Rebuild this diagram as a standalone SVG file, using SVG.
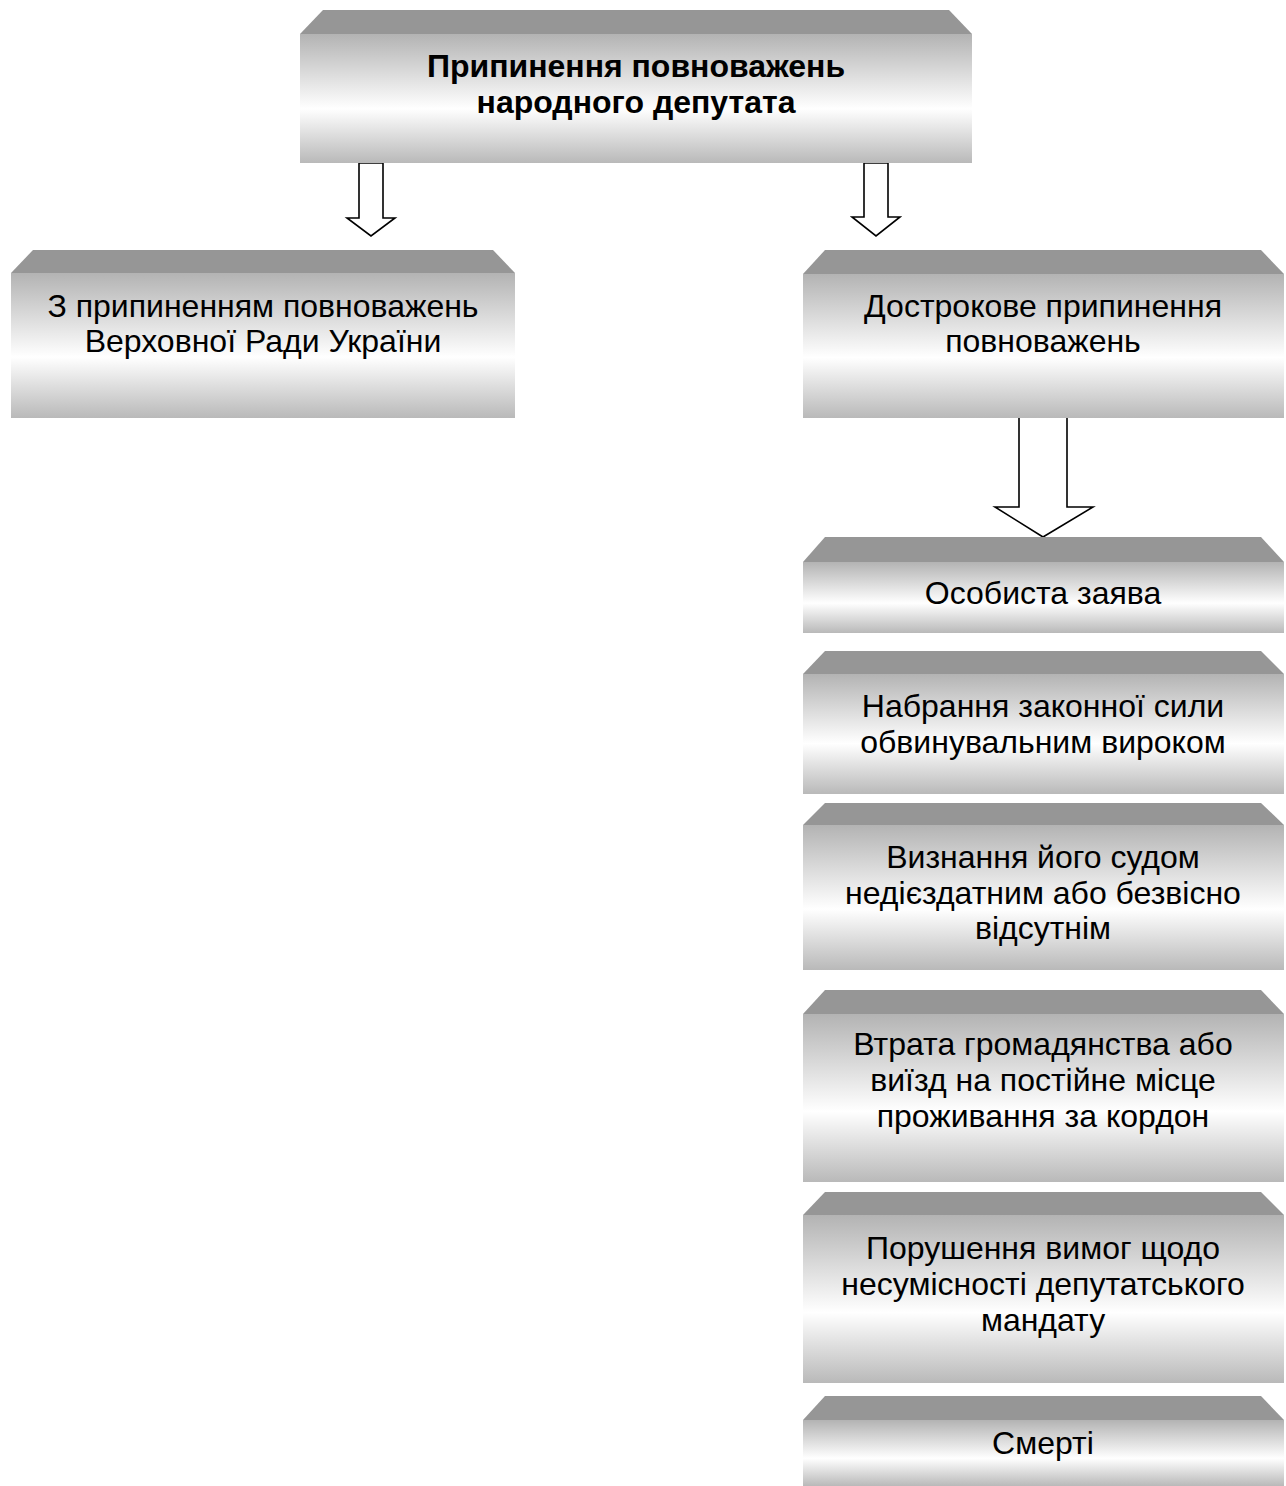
<svg xmlns="http://www.w3.org/2000/svg" width="1286" height="1486" viewBox="0 0 1286 1486">
<style>
.bevel{fill:#969696}
.face{fill:url(#g)}
.t{font-family:"Liberation Sans",Arial,sans-serif;font-size:32px;fill:#000;text-anchor:middle}
.b{font-weight:bold}
.arr{fill:#fff;stroke:#000;stroke-width:1.6;stroke-linejoin:miter}
</style>
<defs>
<linearGradient id="g" x1="0" y1="0" x2="0" y2="1">
<stop offset="0" stop-color="#b3b3b3"/>
<stop offset="0.58" stop-color="#ffffff"/>
<stop offset="1" stop-color="#b9b9b9"/>
</linearGradient>
</defs>
<rect width="1286" height="1486" fill="#fff"/>
<g id="connectors">
<polygon class="arr" points="359,163 383,163 383,218 395,218 371,236 347,218 359,218"/>
<polygon class="arr" points="864,163 888,163 888,217 900,217 876,236 852,217 864,217"/>
<polygon class="arr" points="1019,417 1067,417 1067,507 1093,507 1043,537 995,507 1019,507"/>
</g>
<g id="n-top">
<polygon class="bevel" points="323,10 949,10 972,34 300,34"/>
<rect class="face" x="300" y="34" width="672" height="129"/>
<text class="t b" x="636" y="77">Припинення повноважень</text>
<text class="t b" x="636" y="113">народного депутата</text>
</g>
<g id="n-vr">
<polygon class="bevel" points="33,250 493,250 515,273 11,273"/>
<rect class="face" x="11" y="273" width="504" height="145"/>
<text class="t" x="263" y="317">З припиненням повноважень</text>
<text class="t" x="263" y="352">Верховної Ради України</text>
</g>
<g id="n-early">
<polygon class="bevel" points="825,250 1261,250 1284,274 803,274"/>
<rect class="face" x="803" y="274" width="481" height="144"/>
<text class="t" x="1043" y="317">Дострокове припинення</text>
<text class="t" x="1043" y="352">повноважень</text>
</g>
<g id="n-1">
<polygon class="bevel" points="825,537 1261,537 1284,562 803,562"/>
<rect class="face" x="803" y="562" width="481" height="71"/>
<text class="t" x="1043" y="604">Особиста заява</text>
</g>
<g id="n-2">
<polygon class="bevel" points="825,651 1261,651 1284,674 803,674"/>
<rect class="face" x="803" y="674" width="481" height="120"/>
<text class="t" x="1043" y="717">Набрання законної сили</text>
<text class="t" x="1043" y="753">обвинувальним вироком</text>
</g>
<g id="n-3">
<polygon class="bevel" points="825,803 1261,803 1284,825 803,825"/>
<rect class="face" x="803" y="825" width="481" height="145"/>
<text class="t" x="1043" y="868">Визнання його судом</text>
<text class="t" x="1043" y="904">недієздатним або безвісно</text>
<text class="t" x="1043" y="939">відсутнім</text>
</g>
<g id="n-4">
<polygon class="bevel" points="825,990 1261,990 1284,1014 803,1014"/>
<rect class="face" x="803" y="1014" width="481" height="168"/>
<text class="t" x="1043" y="1055">Втрата громадянства або</text>
<text class="t" x="1043" y="1091">виїзд на постійне місце</text>
<text class="t" x="1043" y="1127">проживання за кордон</text>
</g>
<g id="n-5">
<polygon class="bevel" points="825,1192 1261,1192 1284,1215 803,1215"/>
<rect class="face" x="803" y="1215" width="481" height="168"/>
<text class="t" x="1043" y="1259">Порушення вимог щодо</text>
<text class="t" x="1043" y="1295">несумісності депутатського</text>
<text class="t" x="1043" y="1331">мандату</text>
</g>
<g id="n-6">
<polygon class="bevel" points="825,1396 1261,1396 1284,1420 803,1420"/>
<rect class="face" x="803" y="1420" width="481" height="66"/>
<text class="t" x="1043" y="1454">Смерті</text>
</g>
</svg>
